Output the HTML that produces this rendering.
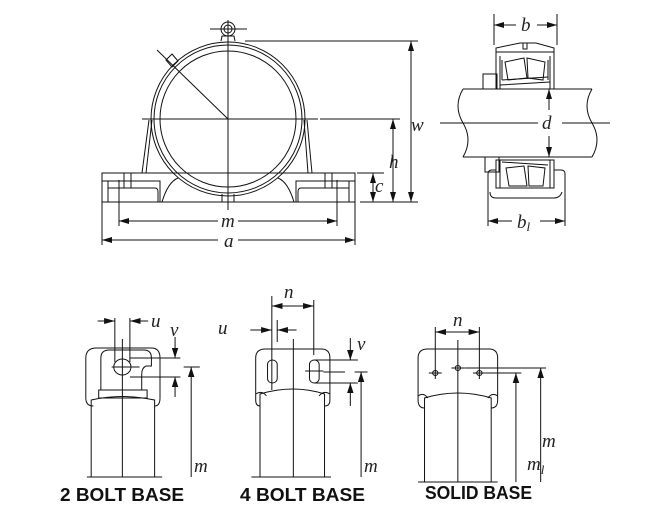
<!DOCTYPE html>
<html><head><meta charset="utf-8"><style>
html,body{margin:0;padding:0;background:#fff;}
svg{display:block}
.l{stroke:#111;stroke-width:1;fill:none}
.l *{vector-effect:non-scaling-stroke}
.t{font-family:"Liberation Serif",serif;font-style:italic;font-size:19px;fill:#222}
.b{font-family:"Liberation Sans",sans-serif;font-weight:bold;font-size:18px;fill:#111}
</style></head><body>
<svg width="669" height="522" viewBox="0 0 669 522" xmlns="http://www.w3.org/2000/svg">
<defs>
<marker id="a" viewBox="0 0 10 6" refX="10" refY="3" markerWidth="10" markerHeight="6" orient="auto-start-reverse" markerUnits="userSpaceOnUse"><path d="M0,0L10,3L0,6z" fill="#111"/></marker>
</defs>
<g class="l">
<!-- front view -->
<circle cx="228" cy="119" r="77"/>
<circle cx="228" cy="119" r="74"/>
<circle cx="228" cy="119" r="68"/>
<circle cx="228" cy="29" r="7"/><circle cx="228" cy="29" r="4"/>
<line x1="210" y1="29" x2="247" y2="29"/>
<path d="M221,41 L222,36 L234,36 L235,41"/>
<path d="M142,173 L149,120 M312,173 L307,120 M146,173 L152,120 M308,173 L304,120"/>
<rect x="102" y="173" width="253" height="29"/>
<path d="M102,181 L160,181 L160,202 M108,181 L108,202 M116,188 L155,188 Q158,188 158,192 L158,202 M108,188 L116,188"/>
<path d="M355,181 L296,181 L296,202 M349,181 L349,202 M340,188 L301,188 Q298,188 298,192 L298,202 M349,188 L340,188"/>
<path d="M162,202 Q168,182 178,178 M294,202 Q288,182 278,178"/>
<path d="M222,194 L222,202 M234,194 L234,202"/>
<path d="M119,180 L119,205 M124,173 L124,188 M131,173 L131,188"/>
<path d="M337,180 L337,205 M332,173 L332,188 M325,173 L325,188"/>
<line x1="228" y1="20" x2="228" y2="210"/>
<line x1="142" y1="119" x2="318" y2="119"/>
<line x1="228" y1="119" x2="157" y2="50"/>
<path d="M166,60 L172,54 L178,61 L172,67 z"/>
<line x1="245" y1="41" x2="418" y2="41"/>
<line x1="320" y1="119" x2="400" y2="119"/>
<line x1="357" y1="173" x2="384" y2="173"/>
<line x1="360" y1="202" x2="418" y2="202"/>
<line x1="411" y1="41" x2="411" y2="202" marker-start="url(#a)" marker-end="url(#a)"/>
<line x1="393" y1="119" x2="393" y2="202" marker-start="url(#a)" marker-end="url(#a)"/>
<line x1="373" y1="173" x2="373" y2="202" marker-start="url(#a)" marker-end="url(#a)"/>
<line x1="102" y1="202" x2="102" y2="245"/><line x1="355" y1="202" x2="355" y2="245"/>
<line x1="119" y1="205" x2="119" y2="226"/><line x1="337" y1="205" x2="337" y2="226"/>
<line x1="119" y1="221" x2="218" y2="221" marker-start="url(#a)"/><line x1="238" y1="221" x2="337" y2="221" marker-end="url(#a)"/>
<line x1="102" y1="240" x2="218" y2="240" marker-start="url(#a)"/><line x1="238" y1="240" x2="355" y2="240" marker-end="url(#a)"/>

<!-- side view -->
<line x1="494" y1="14" x2="494" y2="45"/><line x1="557" y1="14" x2="557" y2="45"/>
<line x1="494" y1="25" x2="516" y2="25" marker-start="url(#a)"/><line x1="537" y1="25" x2="557" y2="25" marker-end="url(#a)"/>
<path d="M496,52 L496,48 L520,43 L536,43 L554,48 L554,52"/>
<path d="M523,43 L523,49 L527,49 L527,43"/>
<rect x="496" y="52" width="58" height="37"/>
<path d="M500,56 L500,89 M550,56 L550,89 M502,60 L502,80 M548,60 L548,80"/>
<path d="M505,62 L524,58 L527,78 L508,80 z M527,58 L545,62 L543,80 L528,78 z"/>
<path d="M502,80 L548,77 M500,85 L550,82"/>
<rect x="483" y="74" width="14" height="15"/>
<path d="M463,89 L592,89 M463,157 L592,157"/>
<path d="M463,89 Q453,106 463,123 Q473,140 463,157"/>
<path d="M592,89 Q582,106 592,123 Q602,140 592,157"/>
<line x1="440" y1="123" x2="538" y2="123"/><line x1="562" y1="123" x2="610" y2="123"/>
<line x1="549" y1="89" x2="549" y2="110" marker-start="url(#a)"/><line x1="549" y1="136" x2="549" y2="157" marker-end="url(#a)"/>
<rect x="485" y="157" width="14" height="15"/>
<rect x="496" y="160" width="58" height="28"/>
<path d="M500,160 L500,188 M550,160 L550,188 M502,162 L548,165"/>
<path d="M506,168 L524,166 L527,186 L509,186 z M528,166 L545,168 L543,186 L529,186 z"/>
<path d="M488,200 L488,174 Q488,170 492,170 L496,170 M565,200 L565,174 Q565,170 561,170 L554,170"/>
<path d="M490,192 Q490,198 496,198 L554,198 Q560,198 562,192"/>
<line x1="488" y1="200" x2="488" y2="226"/><line x1="565" y1="200" x2="565" y2="226"/>
<line x1="488" y1="221" x2="512" y2="221" marker-start="url(#a)"/><line x1="540" y1="221" x2="565" y2="221" marker-end="url(#a)"/>
</g>

<g transform="translate(60,0) scale(1.0753,1) translate(-60,0)">
<g class="l">
<!-- 2 bolt base -->
<path d="M89,477 L89,400 Q118,393 148,400 L148,477"/>
<path d="M85,477 L155,477"/>
<path d="M91,406 Q84,406 84,398 L84,358 Q84,348 94,348 L145,348 Q153,348 153,358 L153,398 Q153,406 148,406"/>
<path d="M98,390 L98,358 Q98,350 106,350 L138,350 Q145,350 145,358 L145,366 L140,366 Q136,368 136,374 L136,390"/>
<rect x="96" y="390" width="45" height="8"/>
<circle cx="118" cy="367" r="8"/>
<line x1="118" y1="339" x2="118" y2="477"/>
<line x1="108" y1="367" x2="134" y2="367"/>
<line x1="111" y1="318" x2="111" y2="362"/><line x1="125" y1="318" x2="125" y2="362"/>
<line x1="95" y1="321" x2="111" y2="321" marker-end="url(#a)"/><line x1="142" y1="321" x2="125" y2="321" marker-end="url(#a)"/>
<line x1="125" y1="358" x2="172" y2="358"/><line x1="125" y1="377" x2="172" y2="377"/>
<line x1="167" y1="337" x2="167" y2="358" marker-end="url(#a)"/><line x1="167" y1="397" x2="167" y2="377" marker-end="url(#a)"/>
<line x1="175" y1="367" x2="190" y2="367"/>
<line x1="182" y1="477" x2="182" y2="367" marker-end="url(#a)"/>

<!-- 4 bolt base -->
<path d="M246,477 L246,394 Q277,384 306,394 L306,477"/>
<path d="M238,477 L312,477"/>
<path d="M246,406 Q242,406 242,400 L242,358 Q242,349 251,349 L303,349 Q311,349 311,358 L311,400 Q311,406 306,406"/>
<path d="M242,394 Q248,390 252,396 M311,394 Q305,390 301,396"/>
<rect x="253" y="360" width="9" height="23" rx="4.5"/>
<rect x="292" y="360" width="9" height="23" rx="4.5"/>
<line x1="277" y1="339" x2="277" y2="477"/>
<line x1="257" y1="323" x2="257" y2="390"/><line x1="262" y1="320" x2="262" y2="342"/>
<line x1="296" y1="300" x2="296" y2="355"/><line x1="257" y1="296" x2="257" y2="323"/>
<line x1="257" y1="306" x2="296" y2="306" marker-start="url(#a)" marker-end="url(#a)"/>
<line x1="237" y1="330" x2="257" y2="330" marker-end="url(#a)"/><line x1="280" y1="330" x2="262" y2="330" marker-end="url(#a)"/>
<line x1="288" y1="371" x2="305" y2="371"/>
<line x1="296" y1="360" x2="337" y2="360"/><line x1="296" y1="383" x2="337" y2="383"/>
<line x1="330" y1="338" x2="330" y2="360" marker-end="url(#a)"/><line x1="330" y1="406" x2="330" y2="383" marker-end="url(#a)"/>
<line x1="305" y1="372" x2="325" y2="372"/><line x1="334" y1="372" x2="346" y2="372"/>
<line x1="340" y1="477" x2="340" y2="372" marker-end="url(#a)"/>

<!-- solid base -->
<path d="M399,482 L399,398 Q430,388 461,398 L461,482"/>
<path d="M393,482 L467,482"/>
<path d="M399,408 Q393,408 393,400 L393,358 Q393,349 402,349 L459,349 Q467,349 467,358 L467,400 Q467,408 461,408"/>
<path d="M393,396 Q398,392 402,398 M467,396 Q462,392 458,398"/>
<line x1="430" y1="340" x2="430" y2="482"/>
<circle cx="409" cy="373" r="2.5"/><line x1="403" y1="373" x2="415" y2="373"/><line x1="409" y1="367" x2="409" y2="379"/>
<circle cx="430" cy="368" r="2.5"/><line x1="424" y1="368" x2="436" y2="368"/>
<circle cx="450" cy="373" r="2.5"/><line x1="444" y1="373" x2="456" y2="373"/><line x1="450" y1="367" x2="450" y2="379"/>
<line x1="409" y1="327" x2="409" y2="367"/><line x1="450" y1="327" x2="450" y2="367"/>
<line x1="409" y1="332" x2="450" y2="332" marker-start="url(#a)" marker-end="url(#a)"/>
<line x1="436" y1="368" x2="512" y2="368"/><line x1="456" y1="373" x2="489" y2="373"/>
<line x1="507" y1="482" x2="507" y2="368" marker-end="url(#a)"/>
<line x1="484" y1="482" x2="484" y2="373" marker-end="url(#a)"/>
</g>
</g>

<g class="t">
<text x="221" y="227">m</text>
<text x="224" y="247">a</text>
<text x="411" y="131">w</text>
<text x="389" y="168">h</text>
<text x="375" y="192">c</text>
<text x="521" y="31">b</text>
<text x="542" y="129">d</text>
<text x="517" y="228">b<tspan font-size="13" dy="3">l</tspan></text>
<text x="151" y="327">u</text>
<text x="170" y="336">v</text>
<text x="194" y="472">m</text>
<text x="284" y="298">n</text>
<text x="218" y="334">u</text>
<text x="357" y="350">v</text>
<text x="364" y="472">m</text>
<text x="453" y="326">n</text>
<text x="542" y="447">m</text>
<text x="527" y="470">m<tspan font-size="13" dy="4">l</tspan></text>
</g>
<text class="b" x="60" y="501" textLength="124" lengthAdjust="spacingAndGlyphs">2 BOLT BASE</text>
<text class="b" x="240" y="501" textLength="125" lengthAdjust="spacingAndGlyphs">4 BOLT BASE</text>
<text class="b" x="425" y="499" textLength="107" lengthAdjust="spacingAndGlyphs" font-size="17">SOLID BASE</text>
</svg>
</body></html>
